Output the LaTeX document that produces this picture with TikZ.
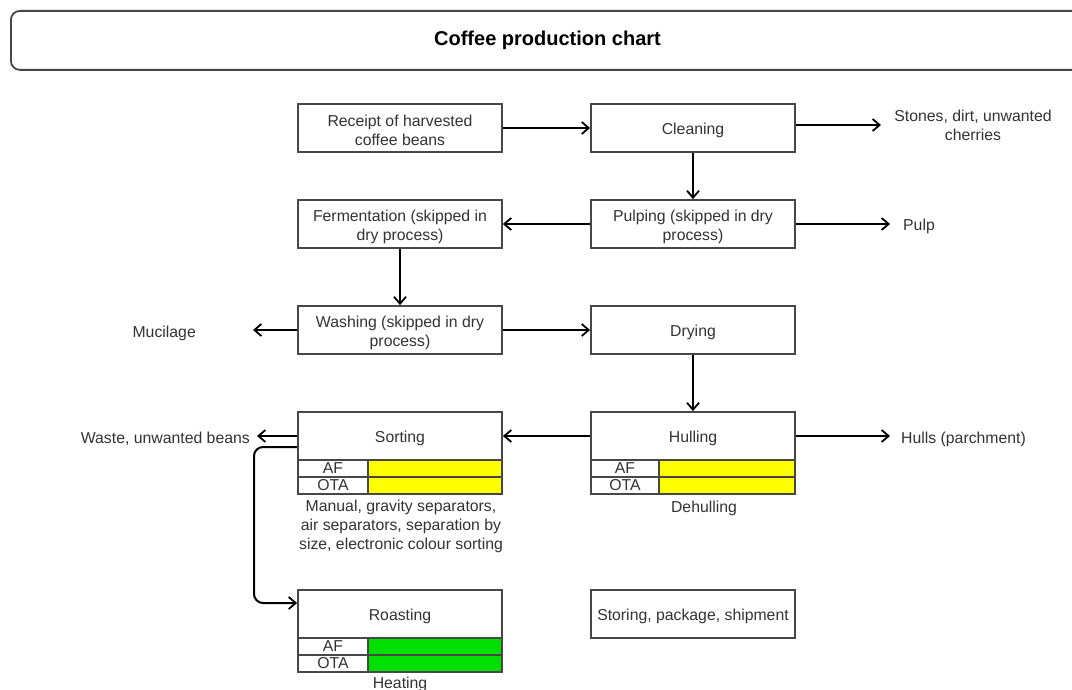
\documentclass[tikz,border=0pt]{standalone}
\usepackage{fontspec}
\setmainfont{Liberation Sans}
\usetikzlibrary{arrows.meta}
\definecolor{ink}{HTML}{333333}
\definecolor{stroke}{HTML}{474747}
\definecolor{hiyellow}{HTML}{FFFF00}
\definecolor{higreen}{HTML}{00E000}
\begin{document}
\begin{tikzpicture}[x=1pt,y=-1pt,
  font=\fontsize{15.8}{19}\selectfont, text=ink,
  stepbox/.style={draw=stroke, line width=1.8pt, fill=white, minimum width=204pt,
    minimum height=48pt, inner sep=0pt,
    label={[align=center, inner sep=0pt, yshift=-2.5pt]center:#1}},
  cell/.style={draw=stroke, line width=1.8pt, minimum height=17pt, inner sep=0pt,
    font=\fontsize{15.8}{15}\selectfont},
  lbl/.style={align=center, inner sep=1pt},
  flow/.style={draw=black, line width=2pt,
    -{Straight Barb[length=7pt,width=12pt,line width=1.8pt]}}]
\useasboundingbox (0,0) rectangle (1072,690);
\fill[white] (0,0) rectangle (1072,690);
\begin{scope}
\clip (0,0) rectangle (1072,690);
% title bar
\node[draw=stroke, line width=1.8pt, rounded corners=9pt, minimum width=1080pt,
  minimum height=59pt, anchor=north west, inner sep=0pt] (title) at (10,10) {};
\node[font=\fontsize{20}{22}\selectfont\bfseries, text=black] (titletext) at (547.5,40) {Coffee production chart};
\end{scope}

% process steps
\node[stepbox={Receipt of harvested\\coffee beans}] (receipt) at (400,128) {};
\node[stepbox={Cleaning}] (cleaning) at (693,128) {};
\node[stepbox={Fermentation (skipped in\\dry process)}] (ferment) at (400,224) {};
\node[stepbox={Pulping (skipped in dry\\process)}] (pulping) at (693,224) {};
\node[stepbox={Washing (skipped in dry\\process)}] (washing) at (400,330) {};
\node[stepbox={Drying}] (drying) at (693,330) {};
\node[stepbox={Sorting}] (sorting) at (400,436) {};
\node[stepbox={Hulling}] (hulling) at (693,436) {};
\node[stepbox={Roasting}] (roasting) at (400,614) {};
\node[stepbox={Storing, package, shipment}] (storing) at (693,614) {};

% AF / OTA tables
\node[cell, fill=white, minimum width=70pt] (sortAF) at (333,468.5) {AF};
\node[cell, fill=hiyellow, minimum width=134pt] (sortAFv) at (435,468.5) {};
\node[cell, fill=white, minimum width=70pt] (sortOTA) at (333,485.5) {OTA};
\node[cell, fill=hiyellow, minimum width=134pt] (sortOTAv) at (435,485.5) {};

\node[cell, fill=white, minimum width=68pt] (hullAF) at (625,468.5) {AF};
\node[cell, fill=hiyellow, minimum width=136pt] (hullAFv) at (727,468.5) {};
\node[cell, fill=white, minimum width=68pt] (hullOTA) at (625,485.5) {OTA};
\node[cell, fill=hiyellow, minimum width=136pt] (hullOTAv) at (727,485.5) {};

\node[cell, fill=white, minimum width=70pt] (roastAF) at (333,646.5) {AF};
\node[cell, fill=higreen, minimum width=134pt] (roastAFv) at (435,646.5) {};
\node[cell, fill=white, minimum width=70pt] (roastOTA) at (333,663.5) {OTA};
\node[cell, fill=higreen, minimum width=134pt] (roastOTAv) at (435,663.5) {};

% captions under the tables
\node[lbl] (sortcap) at (401,526.5) {Manual, gravity separators,\\air separators, separation by\\size, electronic colour sorting};
\node[lbl] (hullcap) at (704,508) {Dehulling};
\node[lbl] (roastcap) at (400,684.5) {Heating};

% outputs
\node[lbl] (stones) at (973,125.5) {Stones, dirt, unwanted\\cherries};
\node[lbl, anchor=west] (pulp) at (902,226) {Pulp};
\node[lbl, anchor=east] (mucilage) at (197,333) {Mucilage};
\node[lbl, anchor=east] (waste) at (251,439) {Waste, unwanted beans};
\node[lbl, anchor=west] (hulls) at (900,439) {Hulls (parchment)};

% connectors
\coordinate (stonesin) at (881,125);
\coordinate (pulpin) at (890,224);
\coordinate (hullsin) at (890,436);
\coordinate (mucin) at (253,330);
\coordinate (wastein) at (257,436);
\draw[flow] (receipt.east) -- (cleaning.west);
\draw[flow] (cleaning.east |- stonesin) -- (stonesin);
\draw[flow] (cleaning.south) -- (pulping.north);
\draw[flow] (pulping.west) -- (ferment.east);
\draw[flow] (pulping.east) -- (pulpin);
\draw[flow] (ferment.south) -- (washing.north);
\draw[flow] (washing.west) -- (mucin);
\draw[flow] (washing.east) -- (drying.west);
\draw[flow] (drying.south) -- (hulling.north);
\draw[flow] (hulling.west) -- (sorting.east);
\draw[flow] (hulling.east) -- (hullsin);
\draw[flow] (sorting.west) -- (wastein);
\draw[flow, rounded corners=9pt] (sorting.west |- 0,447) -- (254,447) -- (254,603) -- (roasting.west |- 0,603);
\end{tikzpicture}
\end{document}
